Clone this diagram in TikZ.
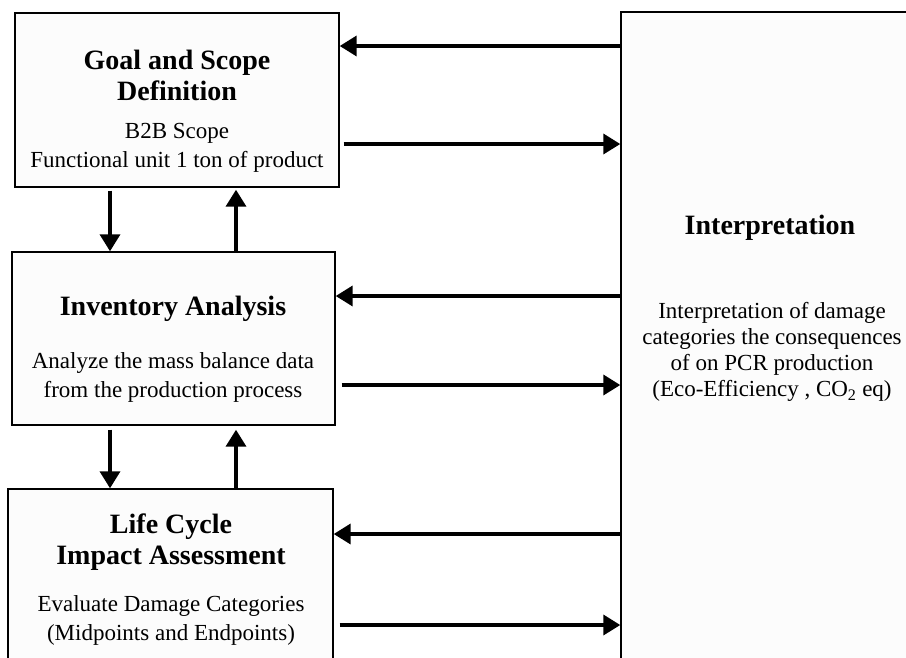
\documentclass[tikz,border=0pt]{standalone}
\usepackage{fontspec}
\setmainfont{Liberation Serif}
\usetikzlibrary{arrows.meta}
\begin{document}
\begin{tikzpicture}[x=1pt,y=-1pt,
  stage/.style={draw=black, line width=1.4pt, fill=white!99!black, inner sep=0pt},
  ttl/.style={font=\fontsize{28}{31}\selectfont\bfseries, align=center, inner sep=0pt},
  txt/.style={font=\fontsize{23}{29}\selectfont, align=center, inner sep=0pt},
  arr/.style={line width=3.6pt, -{Triangle[length=17pt,width=20pt]}}]
\clip (0,0) rectangle (906,657);
\fill[white] (0,0) rectangle (906,657);
% boxes
\node[stage, minimum width=324pt, minimum height=174pt] (goal) at (177,100) {};
\node[stage, minimum width=323pt, minimum height=173pt] (inv) at (173.5,338.5) {};
\node[stage, minimum width=325pt, minimum height=200pt] (lcia) at (170.5,589) {};
\node[stage, minimum width=300pt, minimum height=680pt] (interp) at (771,352) {};
% texts
\node[ttl] (goalT) at (177,75) {Goal and Scope\\Definition};
\node[txt] (goalB) at (177,148) {B2B Scope\\Functional unit 1 ton of product};
\node[ttl] (invT) at (173,309) {Inventory Analysis};
\node[txt] (invB) at (173,377) {Analyze the mass balance data\\from the production process};
\node[ttl] (lciaT) at (171,542) {Life Cycle\\Impact Assessment};
\node[txt] (lciaB) at (171,620) {Evaluate Damage Categories\\(Midpoints and Endpoints)};
\node[ttl] (interpT) at (770,228) {Interpretation};
\node[txt, font=\fontsize{23}{26}\selectfont] (interpB) at (772,352) {Interpretation of damage\\categories the consequences\\of on PCR production\\(Eco-Efficiency , CO\textsubscript{2} eq)};
% helper coordinates
\coordinate (y1) at (0,46);
\coordinate (y2) at (0,144);
\coordinate (y3) at (0,296);
\coordinate (y4) at (0,385);
\coordinate (y5) at (0,534);
\coordinate (y6) at (0,625);
\coordinate (xd) at (110,0);
\coordinate (xu) at (236,0);
% horizontal arrows
\draw[arr] (interp.west |- y1) -- (goal.east |- y1);
\draw[arr, shorten <=4pt] (goal.east |- y2) -- (interp.west |- y2);
\draw[arr] (interp.west |- y3) -- (inv.east |- y3);
\draw[arr, shorten <=6pt] (inv.east |- y4) -- (interp.west |- y4);
\draw[arr] (interp.west |- y5) -- (lcia.east |- y5);
\draw[arr, shorten <=6pt] (lcia.east |- y6) -- (interp.west |- y6);
% vertical arrows
\draw[arr, shorten <=3pt] (goal.south -| xd) -- (inv.north -| xd);
\draw[arr, shorten >=2pt] (inv.north -| xu) -- (goal.south -| xu);
\draw[arr, shorten <=4pt] (inv.south -| xd) -- (lcia.north -| xd);
\draw[arr, shorten >=4pt] (lcia.north -| xu) -- (inv.south -| xu);
\end{tikzpicture}
\end{document}
